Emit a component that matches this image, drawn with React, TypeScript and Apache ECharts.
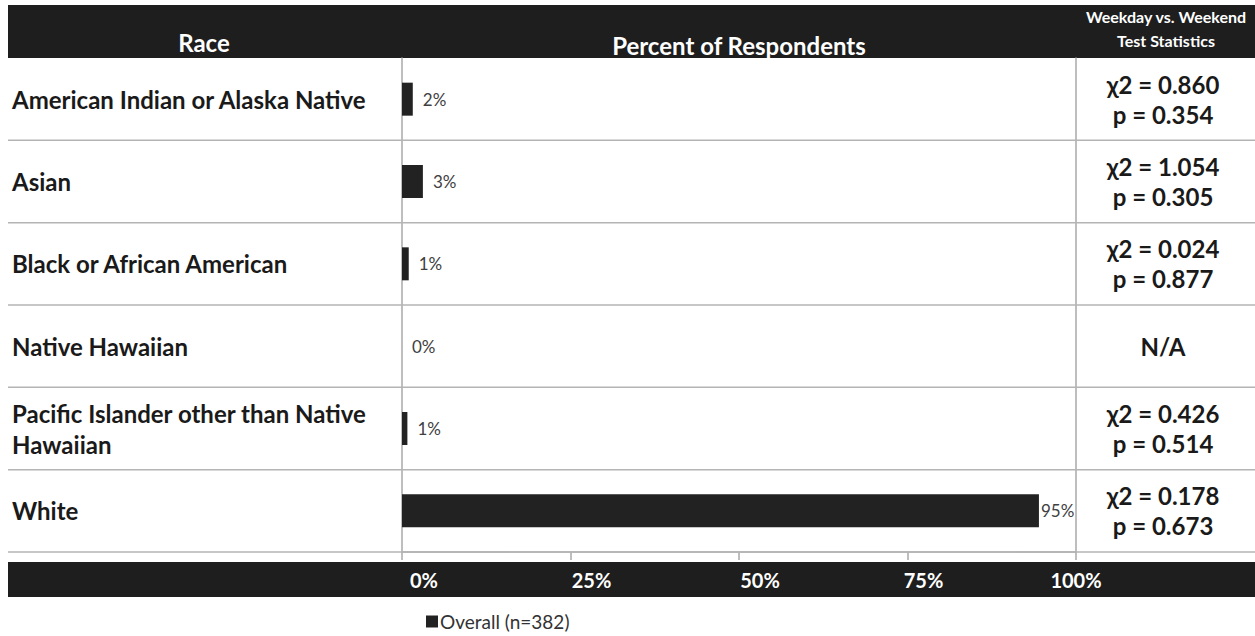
import React, { useEffect, useRef } from "react";
import * as echarts from "echarts";

const categories = [
  "American Indian or Alaska Native",
  "Asian",
  "Black or African American",
  "Native Hawaiian",
  "Pacific Islander other than Native Hawaiian",
  "White",
];
const overall = [1.6, 3.1, 1.0, 0, 0.8, 94.5];
const chiSquare = ["0.860", "1.054", "0.024", null, "0.426", "0.178"];
const pValues = ["0.354", "0.305", "0.877", null, "0.514", "0.673"];
const xTicks = [0, 25, 50, 75, 100];
const seriesName = "Overall (n=382)";

const FONT = "Lato, 'Open Sans', sans-serif";
const W = 1255;
const H = 636;
const GRID_TOP = 58;
const GRID_BOTTOM = 552;
const GRID_LEFT = 402;
const GRID_RIGHT = 1076;

function wrapLabel(s: string): string {
  if (s.length <= 34) return s;
  const cut = s.lastIndexOf(" ", 34);
  return s.slice(0, cut) + "\n" + s.slice(cut + 1);
}

export default function App() {
  const ref = useRef<HTMLDivElement>(null);
  useEffect(() => {
    if (!ref.current) return;
    const chart = echarts.init(ref.current, null, { renderer: "svg" });
    const rowH = (GRID_BOTTOM - GRID_TOP) / categories.length;
    const sepLines = categories.map((_, i) => ({
      type: "line",
      z: 1,
      shape: { x1: 8, y1: GRID_TOP + (i + 1) * rowH, x2: W, y2: GRID_TOP + (i + 1) * rowH },
      style: { stroke: "#b4b4b4", lineWidth: 1.5 },
    }));
    const tickShift: Record<number, number> = { 0: 44, 25: 42, 50: 42, 75: 32, 100: 0 };
    const rich: Record<string, any> = {};
    xTicks.forEach((t) => {
      rich["s" + t] = {
        color: "#ffffff",
        fontWeight: "bold",
        fontSize: 20,
        fontFamily: FONT,
        padding: [0, 0, 0, tickShift[t] ?? 0],
      };
    });
    chart.setOption({
      animation: false,
      backgroundColor: "#ffffff",
      grid: {
        left: GRID_LEFT,
        right: W - GRID_RIGHT,
        top: GRID_TOP,
        bottom: H - GRID_BOTTOM,
        containLabel: false,
      },
      legend: {
        left: 421,
        top: 607,
        icon: "rect",
        itemWidth: 12,
        itemHeight: 12,
        itemGap: 4,
        textStyle: { fontSize: 19, color: "#333", fontFamily: FONT, padding: [0, 0, 0, -3] },
        data: [seriesName],
      },
      xAxis: {
        type: "value",
        min: 0,
        max: 100,
        interval: 25,
        axisLine: { show: true, lineStyle: { color: "#a8a8a8", width: 1.5 } },
        axisTick: { show: true, length: 8, lineStyle: { color: "#a8a8a8", width: 1.5 } },
        splitLine: { show: false },
        axisLabel: {
          margin: 18,
          formatter: (v: number) => `{s${v}|${v}%}`,
          rich,
        },
      },
      yAxis: [
        {
          type: "category",
          inverse: true,
          data: categories,
          axisLine: { show: true, lineStyle: { color: "#a8a8a8", width: 1.5 } },
          axisTick: { show: false },
          splitLine: { show: false },
          axisLabel: {
            align: "left",
            margin: GRID_LEFT - 12,
            fontSize: 24,
            fontWeight: "bold",
            color: "#1a1a1a",
            fontFamily: FONT,
            lineHeight: 31,
            formatter: (v: string) => wrapLabel(v),
          },
        },
        {
          type: "category",
          inverse: true,
          position: "right",
          data: categories,
          axisLine: { show: true, lineStyle: { color: "#a8a8a8", width: 1.5 } },
          axisTick: { show: false },
          splitLine: { show: false },
          axisLabel: {
            align: "center",
            margin: 1163 - GRID_RIGHT,
            fontSize: 24,
            fontWeight: "bold",
            color: "#1a1a1a",
            fontFamily: FONT,
            lineHeight: 30,
            formatter: (_v: string, i: number) =>
              chiSquare[i] == null ? "N/A" : `χ2 = ${chiSquare[i]}\np = ${pValues[i]}`,
          },
        },
      ],
      series: [
        {
          name: seriesName,
          type: "bar",
          yAxisIndex: 0,
          data: overall.map((v) => ({
            value: v,
            label: v > 90 ? { distance: 2 } : undefined,
          })),
          barWidth: 33,
          itemStyle: { color: "#222222" },
          label: {
            show: true,
            position: "right",
            distance: 10,
            fontSize: 17,
            color: "#404040",
            fontFamily: FONT,
            formatter: (p: any) => `${Math.round(p.value)}%`,
          },
        },
      ],
      graphic: [
        {
          type: "rect",
          z: -1,
          shape: { x: 8, y: 5, width: W - 8, height: GRID_TOP - 5 },
          style: { fill: "#1e1e1e" },
        },
        {
          type: "rect",
          z: -1,
          shape: { x: 8, y: 562, width: W - 8, height: 35 },
          style: { fill: "#1e1e1e" },
        },
        {
          type: "text",
          z: 5,
          x: 204,
          y: 42,
          style: {
            text: "Race",
            fill: "#ffffff",
            font: `bold 24px ${FONT}`,
            align: "center",
            verticalAlign: "middle",
          },
        },
        {
          type: "text",
          z: 5,
          x: 739,
          y: 45,
          style: {
            text: "Percent of Respondents",
            fill: "#ffffff",
            font: `bold 24px ${FONT}`,
            align: "center",
            verticalAlign: "middle",
          },
        },
        {
          type: "text",
          z: 5,
          x: 1166,
          y: 16,
          style: {
            text: "Weekday vs. Weekend",
            fill: "#ffffff",
            font: `bold 16px ${FONT}`,
            align: "center",
            verticalAlign: "middle",
          },
        },
        {
          type: "text",
          z: 5,
          x: 1166,
          y: 40,
          style: {
            text: "Test Statistics",
            fill: "#ffffff",
            font: `bold 16px ${FONT}`,
            align: "center",
            verticalAlign: "middle",
          },
        },
        ...sepLines,
      ],
    });
    return () => chart.dispose();
  }, []);
  return (
    <div
      ref={ref}
      style={{ position: "absolute", left: 0, top: 0, width: W, height: H }}
    />
  );
}
